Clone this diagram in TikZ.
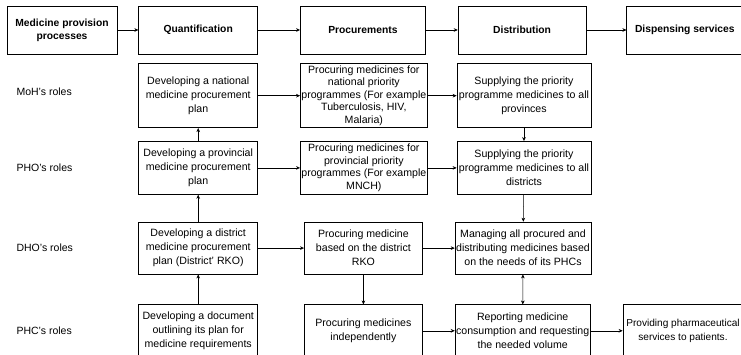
\documentclass[tikz,border=0pt]{standalone}
\usepackage{fontspec}
\setmainfont{Liberation Sans}
\usetikzlibrary{positioning}
\usetikzlibrary{arrows.meta}
\tikzstyle{procD} = [draw=black, line width=0.7pt, align=center, inner sep=1pt, font=\fontsize{10.6}{14}\selectfont]
\tikzstyle{headD} = [procD, minimum height=48pt, font=\bfseries\fontsize{10.3}{13}\selectfont]
\tikzstyle{roleD} = [anchor=west, inner sep=0pt, font=\fontsize{10.5}{13}\selectfont]

\begin{document}
\begin{tikzpicture}[flow/.style={-{Stealth[length=4pt,width=3.6pt]}, line width=0.5pt}]
\useasboundingbox (0,0) rectangle (741pt,-355pt);

% Define nodes
\node[headD, minimum width=110pt]                      (proc)  at (62pt,-30pt) {Medicine provision\\processes};
\node[headD, minimum width=119pt, right = 21pt of proc]  (quant) {Quantification};
\node[headD, minimum width=125pt, right = 42pt of quant] (procu) {Procurements};
\node[headD, minimum width=128pt, right = 32pt of procu] (distr) {Distribution};
\node[headD, minimum width=116pt, right = 40pt of distr] (disp)  {Dispensing services};

% MoH
\node[procD, minimum width=119pt, minimum height=64pt, below = 9pt of quant] (qmoh) {Developing a national\\medicine procurement\\plan};
\node[procD, minimum width=125pt, minimum height=64pt, right = 42pt of qmoh, font=\fontsize{10.6}{12.5}\selectfont] (pmoh) {Procuring medicines for\\national priority\\programmes (For example\\Tuberculosis, HIV,\\Malaria)};
\node[procD, minimum width=134pt, minimum height=64pt, right = 29pt of pmoh] (dmoh) {Supplying the priority\\programme medicines to all\\provinces};

% PHO
\node[procD, minimum width=119pt, minimum height=53pt, below = 13pt of qmoh] (qpho) {Developing a provincial\\medicine procurement\\plan};
\node[procD, minimum width=125pt, minimum height=53pt, right = 42pt of qpho, font=\fontsize{10.6}{12.5}\selectfont] (ppho) {Procuring medicines for\\provincial priority\\programmes (For example\\MNCH)};
\node[procD, minimum width=134pt, minimum height=53pt, right = 29pt of ppho] (dpho) {Supplying the priority\\programme medicines to all\\districts};

% DHO
\node[procD, minimum width=119pt, minimum height=52pt, below = 27pt of qpho] (qdho) {Developing a district\\medicine procurement\\plan (District' RKO)};
\node[procD, minimum width=118pt, minimum height=52pt, right = 46pt of qdho] (pdho) {Procuring medicine\\based on the district\\RKO};
\node[procD, minimum width=134pt, minimum height=52pt, right = 32pt of pdho] (ddho) {Managing all procured and\\distributing medicines based\\on the needs of its PHCs};

% PHC
\node[procD, minimum width=119pt, minimum height=52pt, below = 30pt of qdho] (qphc) {Developing a document\\outlining its plan for\\medicine requirements};
\node[procD, minimum width=118pt, minimum height=52pt, right = 46pt of qphc] (pphc) {Procuring medicines\\independently};
\node[procD, minimum width=134pt, minimum height=52pt, right = 32pt of pphc] (dphc) {Reporting medicine\\consumption and requesting\\the needed volume};
\node[procD, minimum width=120pt, minimum height=52pt, right = 32pt of dphc, font=\fontsize{10.1}{14}\selectfont] (sphc) {Providing pharmaceutical\\services to patients.};

% Role labels
\node[roleD, xshift=-122pt, yshift=4pt] (rmoh) at (qmoh.west) {MoH's roles};
\node[roleD, xshift=-122pt]             (rpho) at (qpho.west) {PHO's roles};
\node[roleD, xshift=-122pt]             (rdho) at (qdho.west) {DHO's roles};
\node[roleD, xshift=-122pt]             (rphc) at (qphc.west) {PHC's roles};

% Edges
\draw[flow] (proc) -- (quant);
\draw[flow] (quant) -- (procu);
\draw[flow] (procu) -- (distr);
\draw[flow] (distr) -- (disp);

\draw[flow] (qmoh) -- (pmoh);
\draw[flow] (pmoh) -- (dmoh);
\draw[flow] (qpho) -- (qmoh);
\draw[flow] (qpho) -- (ppho);
\draw[flow] (ppho) -- (dpho);
\draw[flow] (dmoh) -- (dpho);

\draw[flow] (qdho) -- (qpho);
\draw[flow] (qdho) -- (pdho);
\draw[flow] (pdho) -- (ddho);
\draw[flow] (dpho) -- (ddho);

\draw[flow] (qphc) -- (qdho);
\draw[flow] (pdho) -- (pphc);
\draw[flow] (pphc) -- (dphc);
\draw[flow, {Stealth[length=4pt,width=3.6pt]}-{Stealth[length=4pt,width=3.6pt]}] (ddho) -- (dphc);
\draw[flow] (dphc) -- (sphc);
\end{tikzpicture}
\end{document}
